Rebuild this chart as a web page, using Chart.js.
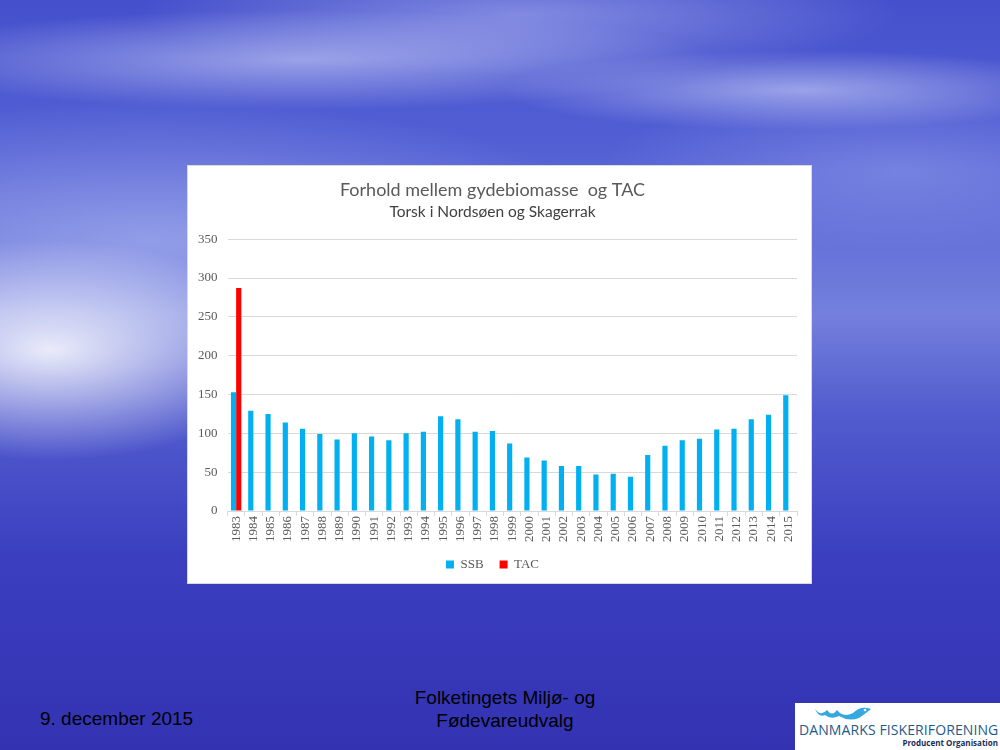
<!DOCTYPE html>
<html>
<head>
<meta charset="utf-8">
<script src="https://cdn.jsdelivr.net/npm/chart.js@4"></script>
<style>
  html, body { margin: 0; padding: 0; }
  body {
    width: 1000px; height: 750px; position: relative; overflow: hidden;
    font-family: "Liberation Sans", Arial, sans-serif;
    background:
      radial-gradient(ellipse 240px 110px at 50px 350px, rgba(255,255,255,0.85), rgba(255,255,255,0) 100%),
      radial-gradient(ellipse 420px 50px at 300px 60px, rgba(230,235,255,0.5), rgba(255,255,255,0) 100%),
      radial-gradient(ellipse 300px 40px at 800px 90px, rgba(230,235,255,0.5), rgba(255,255,255,0) 100%),
      radial-gradient(ellipse 380px 60px at 520px 15px, rgba(220,225,255,0.4), rgba(255,255,255,0) 100%),
      radial-gradient(ellipse 480px 140px at 150px 240px, rgba(200,210,250,0.45), rgba(255,255,255,0) 100%),
      radial-gradient(ellipse 300px 80px at 900px 170px, rgba(190,200,250,0.3), rgba(255,255,255,0) 100%),
      linear-gradient(to bottom, #4550cc 0%, #5360d4 20%, #7480dc 42%, #525cce 55%, #3a3ebf 75%, #3333b2 100%);
  }
  #box {
    position: absolute; left: 188px; top: 166px; width: 623px; height: 417px;
    background: #ffffff; box-shadow: 0 0 0 1px #d9d9d9;
  }
  .foot { position: absolute; color: #000; font-size: 19px; }
  #date { left: 40px; top: 708px; }
  #comm { left: 380px; top: 686px; width: 250px; text-align: center; line-height: 23px; }
  #logo {
    position: absolute; left: 795px; top: 703px; width: 205px; height: 47px; background: #fff;
  }
  #logo .n { position: absolute; left: 4px; top: 17px; font-family: "Open Sans", sans-serif; font-size: 14px; color: #1f5a8c; letter-spacing: 0.1px; white-space: nowrap; }
  #logo .p { position: absolute; right: 2px; top: 34px; font-family: "Open Sans", sans-serif; font-size: 8px; font-weight: bold; color: #1a2d5a; }
</style>
</head>
<body>
<div id="box"><canvas id="canvas1"></canvas></div>
<div class="foot" id="date">9. december 2015</div>
<div class="foot" id="comm">Folketingets Miljø- og<br>Fødevareudvalg</div>
<div id="logo">
  <svg width="70" height="18" style="position:absolute;left:14px;top:0px">
    <path d="M6 6 Q12 14 18 7 Q23 14 28 7 Q34 15 44 10 Q52 2 62 6 Q56 11 50 15 Q40 19 30 13 Q22 17 16 12 Q10 15 6 6 Z" fill="#35a8e0"/>
    <circle cx="56" cy="7" r="1.3" fill="#fff"/>
  </svg>
  <div class="n">DANMARKS FISKERIFORENING</div>
  <div class="p">Producent Organisation</div>
</div>
<script>
// years on the category axis
var years = ["1983","1984","1985","1986","1987","1988","1989","1990","1991","1992","1993",
  "1994","1995","1996","1997","1998","1999","2000","2001","2002","2003","2004","2005",
  "2006","2007","2008","2009","2010","2011","2012","2013","2014","2015"];

// spawning stock biomass
var ssb = [153,129,125,114,106,99,92,100,96,91,100,
  102,122,118,102,103,87,69,65,58,58,47,48,
  44,72,84,91,93,105,106,118,124,149];

// TAC, only given for 1983
var tac = [287,null,null,null,null,null,null,null,null,null,null,
  null,null,null,null,null,null,null,null,null,null,null,null,
  null,null,null,null,null,null,null,null,null,null];

var yTicks = [0,50,100,150,200,250,300,350];

var tickFont = { family: "'Liberation Serif', 'DejaVu Serif', serif", size: 13 };

function makeChart(id) {
  var chart = new Chart(document.getElementById(id), {
    type: 'bar',
    data: {
      labels: years,
      datasets: [
        { label: 'SSB', data: ssb, backgroundColor: '#00b0f0', categoryPercentage: 0.6, barPercentage: 1.0 },
        { label: 'TAC', data: tac, backgroundColor: '#ff0000', categoryPercentage: 0.6, barPercentage: 1.0 }
      ]
    },
    options: {
      responsive: true,
      maintainAspectRatio: false,
      animation: false,
      layout: { padding: { left: 0, right: 14, bottom: 2, top: 0 } },
      plugins: {
        title: {
          display: true,
          text: 'Forhold mellem gydebiomasse  og TAC',
          color: '#595959',
          font: { family: "Lato, 'Open Sans', sans-serif", size: 18, weight: 'normal' },
          padding: { top: 13, bottom: 2 }
        },
        subtitle: {
          display: true,
          text: 'Torsk i Nordsøen og Skagerrak',
          color: '#404040',
          font: { family: "Lato, 'Open Sans', sans-serif", size: 15.5, weight: 'normal' },
          padding: { top: 0, bottom: 18 }
        },
        legend: {
          position: 'bottom',
          labels: {
            boxWidth: 8, boxHeight: 8, color: '#595959', padding: 16,
            font: tickFont
          }
        },
        tooltip: { enabled: false }
      },
      scales: {
        x: {
          grid: { drawOnChartArea: false, color: '#d9d9d9', tickLength: 5 },
          border: { color: '#d9d9d9' },
          ticks: { color: '#595959', font: tickFont, maxRotation: 90, minRotation: 90, autoSkip: false, padding: 0 }
        },
        y: {
          min: 0, max: 350,
          afterBuildTicks: function(axis) { axis.ticks = yTicks.map(function(v) { return { value: v }; }); },
          grid: { color: '#d9d9d9', drawTicks: false },
          border: { display: false },
          ticks: { color: '#595959', font: tickFont, padding: 10 }
        }
      }
    }
  });
  return chart;
}

makeChart("canvas1");
</script>
</body>
</html>
